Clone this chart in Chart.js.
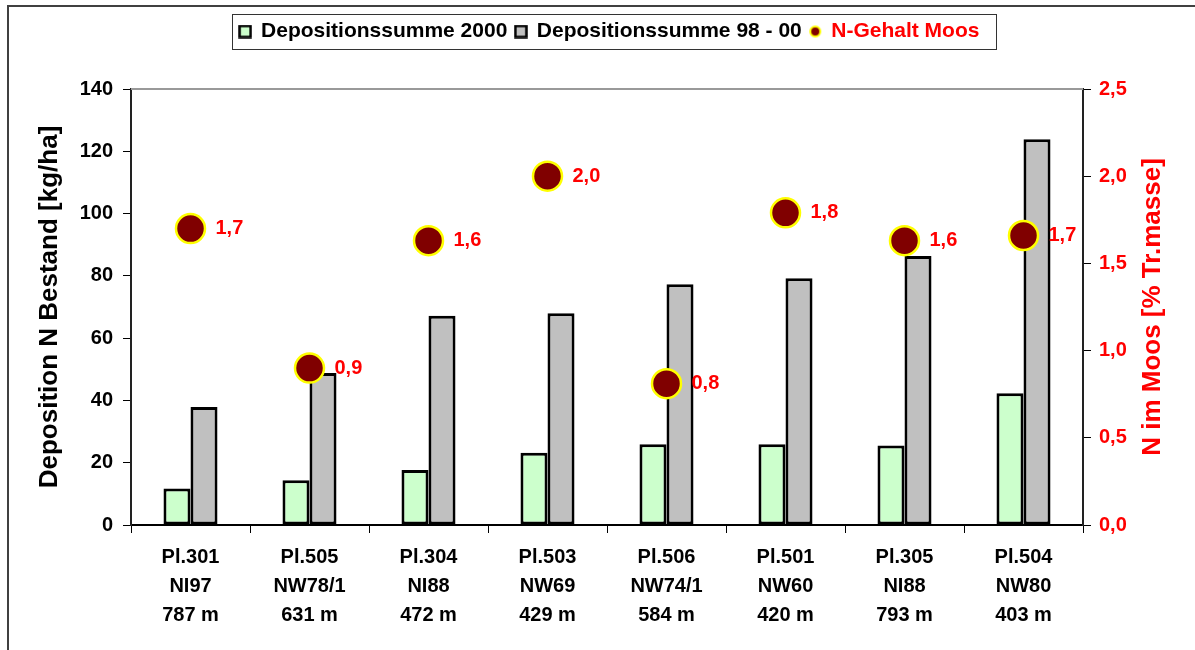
<!DOCTYPE html>
<html>
<head>
<meta charset="utf-8">
<script src="https://cdn.jsdelivr.net/npm/chart.js@4.4.1/dist/chart.umd.min.js"></script>
<style>
  body { margin: 0; background: #fff; }
  #wrap { position: relative; width: 1195px; height: 650px; }
  #chart { display: block; }
  #frame {
    position: absolute; left: 7px; top: 5px; right: 0; bottom: 0;
    border-top: 2px solid #404040; border-left: 2px solid #404040;
    pointer-events: none;
  }
</style>
</head>
<body>
<div id="wrap">
  <canvas id="chart" width="1195" height="650"></canvas>
  <div id="frame"></div>
</div>
<script>
const plots = [
  ["Pl.301", "NI97", "787 m"],
  ["Pl.505", "NW78/1", "631 m"],
  ["Pl.304", "NI88", "472 m"],
  ["Pl.503", "NW69", "429 m"],
  ["Pl.506", "NW74/1", "584 m"],
  ["Pl.501", "NW60", "420 m"],
  ["Pl.305", "NI88", "793 m"],
  ["Pl.504", "NW80", "403 m"],
];
const deposition2000 = [11.7, 14.4, 17.7, 23.2, 25.9, 25.9, 25.5, 42.3];
const deposition9800 = [37.9, 48.8, 67.2, 68.0, 77.3, 79.2, 86.4, 123.9];
const nMoos = [1.70, 0.90, 1.63, 2.00, 0.81, 1.79, 1.63, 1.66];

const FONT = '"Liberation Sans", Arial, sans-serif';
const RED = "#ff0000";
const PAD_LEFT = 24;

Chart.defaults.font.family = FONT;
Chart.defaults.font.weight = "bold";
Chart.defaults.font.size = 20;
Chart.defaults.color = "#000";

const comma = (v, d) => v.toFixed(d).replace(".", ",");

function makeIcon(size, draw) {
  const c = document.createElement("canvas");
  c.width = size;
  c.height = size;
  draw(c.getContext("2d"));
  return c;
}

function squareIcon(fill) {
  return makeIcon(14, (ctx) => {
    ctx.fillStyle = fill;
    ctx.fillRect(1.5, 1.5, 11, 11);
    ctx.lineWidth = 2.5;
    ctx.strokeStyle = "#000";
    ctx.strokeRect(1.5, 1.5, 11, 11);
  });
}

const legendIcons = [
  squareIcon("#ccffcc"),
  squareIcon("#c0c0c0"),
  makeIcon(14, (ctx) => {
    ctx.beginPath();
    ctx.arc(7, 7, 5, 0, Math.PI * 2);
    ctx.fillStyle = "#800000";
    ctx.fill();
    ctx.lineWidth = 2;
    ctx.strokeStyle = "#ffff00";
    ctx.stroke();
  }),
];
const legendColors = ["#000", "#000", RED];

// legend frame, plot top border, right axis title, point labels
const extras = {
  id: "extras",
  afterDraw(chart) {
    const { ctx, chartArea } = chart;
    ctx.save();

    ctx.strokeStyle = "#999";
    ctx.lineWidth = 2;
    ctx.beginPath();
    ctx.moveTo(chartArea.left, chartArea.top);
    ctx.lineTo(chartArea.right, chartArea.top);
    ctx.stroke();

    const boxes = chart.legend.legendHitBoxes;
    if (boxes && boxes.length) {
      const first = boxes[0];
      const last = boxes[boxes.length - 1];
      const cy = first.top + first.height / 2;
      ctx.strokeStyle = "#333";
      ctx.lineWidth = 1;
      ctx.strokeRect(
        Math.round(first.left - 8) + 0.5,
        Math.round(cy - 17.5) + 0.5,
        Math.round(last.left + last.width - first.left + 24),
        35
      );
    }

    const meta = chart.getDatasetMeta(2);
    ctx.fillStyle = RED;
    ctx.font = "bold 20px " + FONT;
    ctx.textAlign = "left";
    ctx.textBaseline = "middle";
    meta.data.forEach((pt, i) => {
      ctx.fillText(comma(nMoos[i], 1), pt.x + 25, pt.y);
    });

    ctx.translate(1153, (chartArea.top + chartArea.bottom) / 2);
    ctx.rotate(-Math.PI / 2);
    ctx.font = "bold 26px " + FONT;
    ctx.textAlign = "center";
    ctx.fillText("N im Moos [% Tr.masse]", 0, 0);
    ctx.restore();
  },
};

new Chart(document.getElementById("chart"), {
  type: "bar",
  data: {
    labels: plots,
    datasets: [
      {
        label: "Depositionssumme 2000",
        data: deposition2000,
        backgroundColor: "#ccffcc",
        borderColor: "#000",
        borderWidth: 3,
        borderSkipped: false,
        yAxisID: "y",
        order: 1,
      },
      {
        label: "Depositionssumme 98 - 00",
        data: deposition9800,
        backgroundColor: "#c0c0c0",
        borderColor: "#000",
        borderWidth: 3,
        borderSkipped: false,
        yAxisID: "y",
        order: 1,
      },
      {
        type: "line",
        label: "N-Gehalt Moos",
        data: nMoos,
        showLine: false,
        pointRadius: 14.5,
        pointHoverRadius: 14.5,
        pointBackgroundColor: "#800000",
        pointBorderColor: "#ffff00",
        pointBorderWidth: 2.5,
        yAxisID: "y1",
        order: 0,
      },
    ],
  },
  options: {
    responsive: false,
    animation: false,
    devicePixelRatio: 1,
    categoryPercentage: 0.454,
    barPercentage: 1,
    layout: { padding: { top: 13, left: PAD_LEFT, right: 0, bottom: 0 } },
    plugins: {
      tooltip: { enabled: false },
      // empty subtitle used as spacer between legend and plot
      subtitle: {
        display: true,
        text: "",
        weight: 500,
        font: { size: 20, lineHeight: 1.2 },
        padding: { top: 13, bottom: 0 },
      },
      legend: {
        position: "top",
        fullSize: true,
        labels: {
          usePointStyle: true,
          boxWidth: 11,
          boxHeight: 11,
          padding: 8,
          font: { size: 21, weight: "bold" },
          generateLabels: (chart) =>
            chart.data.datasets.map((ds, i) => ({
              text: ds.label,
              pointStyle: legendIcons[i],
              fontColor: legendColors[i],
              fillStyle: "transparent",
              strokeStyle: "transparent",
              lineWidth: 0,
              hidden: false,
              datasetIndex: i,
            })),
        },
      },
    },
    scales: {
      x: {
        grid: {
          offset: true,
          drawOnChartArea: false,
          tickLength: 8,
          tickColor: "#000",
          tickWidth: 1,
        },
        border: { color: "#000", width: 2 },
        ticks: {
          color: "#000",
          padding: 10,
          maxRotation: 0,
          autoSkip: false,
          font: { size: 20, weight: "bold", lineHeight: 1.45 },
        },
        afterFit: (scale) => {
          scale.height = 125;
        },
      },
      y: {
        position: "left",
        min: 0,
        max: 140,
        ticks: { stepSize: 20, padding: 10, color: "#000" },
        grid: { drawOnChartArea: false, tickLength: 8, tickColor: "#000" },
        border: { color: "#222", width: 2 },
        title: {
          display: true,
          text: "Deposition N Bestand [kg/ha]",
          color: "#000",
          font: { size: 26, weight: "bold", lineHeight: 1 },
          padding: { top: 37 - PAD_LEFT, bottom: 0 },
        },
        afterFit: (scale) => {
          scale.width = 131 - PAD_LEFT;
        },
      },
      y1: {
        position: "right",
        min: 0,
        max: 2.5,
        ticks: {
          stepSize: 0.5,
          padding: 8,
          color: RED,
          callback: (v) => comma(v, 1),
        },
        grid: { drawOnChartArea: false, tickLength: 8, tickColor: "#000" },
        border: { color: "#222", width: 2 },
        afterFit: (scale) => {
          scale.width = 112;
        },
      },
    },
  },
  plugins: [extras],
});
</script>
</body>
</html>
